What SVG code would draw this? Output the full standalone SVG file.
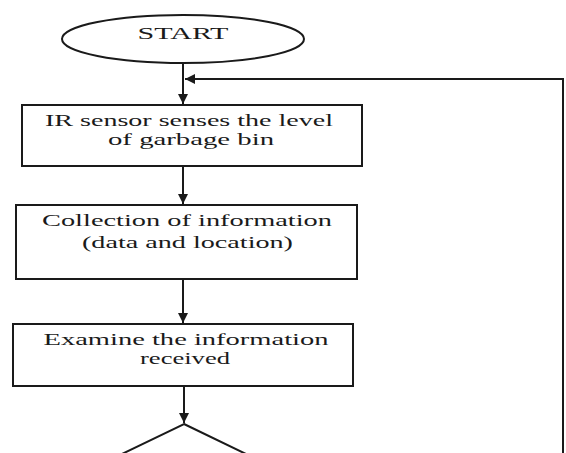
<svg xmlns="http://www.w3.org/2000/svg" width="566" height="453" viewBox="0 0 566 453">
<style>
.shape{fill:#fff;stroke:#1a1a1a;stroke-width:2}
.conn{fill:none;stroke:#1a1a1a;stroke-width:2}
.t{font-family:"Liberation Serif","DejaVu Serif",serif;font-size:16px;fill:#1a1a1a;text-anchor:middle}
</style>
<defs>
<marker id="arr" markerUnits="userSpaceOnUse" markerWidth="11" markerHeight="11" refX="10" refY="5" orient="auto">
<path d="M0,0 L10,5 L0,10 z" fill="#1a1a1a"/>
</marker>
</defs>
<rect width="566" height="453" fill="#fff"/>
<g id="connectors">
<line class="conn" x1="183" y1="63" x2="183" y2="104" marker-end="url(#arr)"/>
<polyline class="conn" points="563,453 563,79 185,79" marker-end="url(#arr)"/>
<line class="conn" x1="183" y1="166" x2="183" y2="204" marker-end="url(#arr)"/>
<line class="conn" x1="183" y1="279" x2="183" y2="323" marker-end="url(#arr)"/>
<line class="conn" x1="184" y1="386" x2="184" y2="423" marker-end="url(#arr)"/>
</g>
<g id="start">
<ellipse class="shape" cx="183" cy="39" rx="121" ry="24"/>
<text class="t" x="183" y="39" textLength="91" lengthAdjust="spacingAndGlyphs">START</text>
</g>
<g id="sense">
<rect class="shape" x="22" y="105" width="340" height="61"/>
<text class="t" x="189" y="126" textLength="288" lengthAdjust="spacingAndGlyphs">IR sensor senses the level</text>
<text class="t" x="191" y="145" textLength="166" lengthAdjust="spacingAndGlyphs">of garbage bin</text>
</g>
<g id="collect">
<rect class="shape" x="16" y="205" width="341" height="74"/>
<text class="t" x="187" y="226" textLength="290" lengthAdjust="spacingAndGlyphs">Collection of information</text>
<text class="t" x="187.5" y="248" textLength="211" lengthAdjust="spacingAndGlyphs">(data and location)</text>
</g>
<g id="examine">
<rect class="shape" x="13" y="324" width="340" height="62"/>
<text class="t" x="186" y="345" textLength="285" lengthAdjust="spacingAndGlyphs">Examine the information</text>
<text class="t" x="185" y="364" textLength="90" lengthAdjust="spacingAndGlyphs">received</text>
</g>
<g id="decision">
<polygon class="shape" points="184,424 304,482 184,540 64,482"/>
</g>
</svg>
